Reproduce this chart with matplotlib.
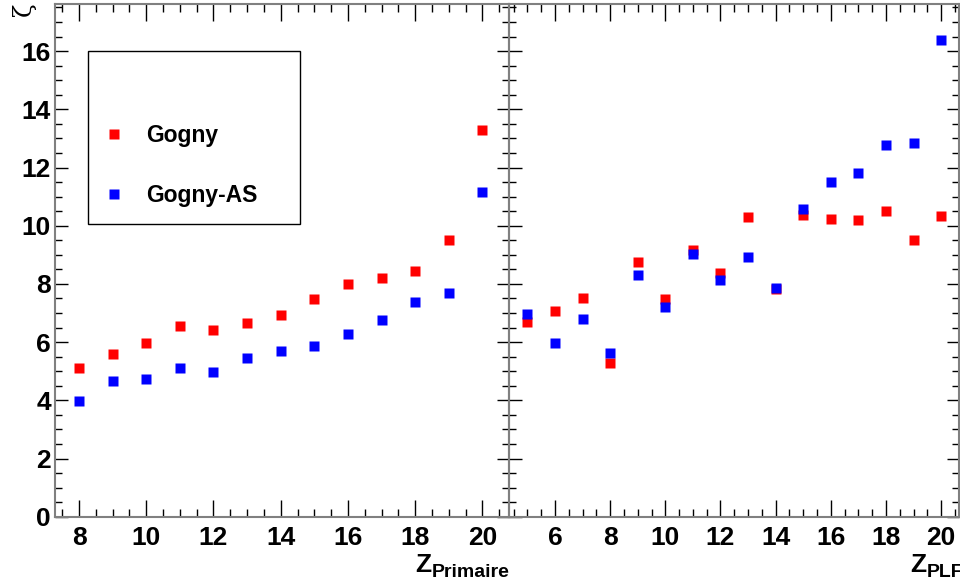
import matplotlib
matplotlib.use("Agg")
import matplotlib.pyplot as plt
from matplotlib.patches import Rectangle
from matplotlib.ticker import MultipleLocator

plt.rcParams['font.family'] = ['Liberation Sans', 'DejaVu Sans']

# ---- data ----
z_primaire = [8, 9, 10, 11, 12, 13, 14, 15, 16, 17, 18, 19, 20]
gogny_primaire = [5.11, 5.58, 5.96, 6.56, 6.43, 6.64, 6.92, 7.48, 7.99, 8.19, 8.44, 9.51, 13.29]
gognyas_primaire = [3.98, 4.66, 4.72, 5.11, 4.96, 5.46, 5.68, 5.86, 6.27, 6.76, 7.37, 7.69, 11.17]

z_plf = [5, 6, 7, 8, 9, 10, 11, 12, 13, 14, 15, 16, 17, 18, 19, 20]
gogny_plf = [6.70, 7.07, 7.50, 5.27, 8.76, 7.48, 9.15, 8.37, 10.31, 7.81, 10.36, 10.23, 10.19, 10.51, 9.51, 10.34]
gognyas_plf = [6.97, 5.98, 6.80, 5.63, 8.30, 7.21, 9.03, 8.13, 8.94, 7.85, 10.58, 11.50, 11.80, 12.77, 12.85, 16.38]

series_labels = ['Gogny', 'Gogny-AS']
series_colors = ['#ff0000', '#0000ff']
y_ticks = [0, 2, 4, 6, 8, 10, 12, 14, 16]

W, H = 960, 587
fig = plt.figure(figsize=(W / 100, H / 100), dpi=100)

def frac(x0, y0, x1, y1):
    return [x0 / W, 1 - y1 / H, (x1 - x0) / W, (y1 - y0) / H]

axL = fig.add_axes(frac(55, 4, 509, 516.7))
axR = fig.add_axes(frac(509, 4, 959, 516.7))

def style(ax, xlim, xticks, show_ylabels):
    ax.set_xlim(*xlim)
    ax.set_ylim(0, 17.62)
    ax.set_xticks(xticks)
    ax.set_yticks(y_ticks)
    ax.xaxis.set_minor_locator(MultipleLocator(0.5))
    ax.yaxis.set_minor_locator(MultipleLocator(0.5))
    ax.tick_params(which='both', direction='in', top=True, right=True,
                   color='black', width=1)
    ax.tick_params(axis='x', which='major', length=12, labelsize=19, pad=7)
    ax.tick_params(axis='x', which='minor', length=6)
    ax.tick_params(axis='y', which='major', length=9, labelsize=19, pad=3)
    ax.tick_params(axis='y', which='minor', length=5)
    if not show_ylabels:
        ax.tick_params(axis='y', labelleft=False)
    for lab in ax.get_xticklabels() + ax.get_yticklabels():
        lab.set_fontweight('bold')
    for sp in ax.spines.values():
        sp.set_color('#808080')
        sp.set_linewidth(1.5)
    ax.patch.set_alpha(0)

style(axL, (7.286, 20.79), [8, 10, 12, 14, 16, 18, 20], True)
style(axR, (4.33, 20.65), [6, 8, 10, 12, 14, 16, 18, 20], False)

ms = 7.2
hL = []
for vals, c, lab in [(gogny_primaire, series_colors[0], series_labels[0]),
                     (gognyas_primaire, series_colors[1], series_labels[1])]:
    h, = axL.plot(z_primaire, vals, 's', color=c, ms=ms, mec='none', label=lab, clip_on=False)
    hL.append(h)
for vals, c in [(gogny_plf, series_colors[0]), (gognyas_plf, series_colors[1])]:
    axR.plot(z_plf, vals, 's', color=c, ms=ms, mec='none', clip_on=False)

# legend box
fig.patches.append(Rectangle((88 / W, 1 - 224 / H), (300 - 88) / W, (224 - 51) / H,
                             transform=fig.transFigure, fill=False, ec='black', lw=1))
leg = fig.legend(handles=hL, labels=series_labels, loc='upper left',
                 bbox_to_anchor=(107 / W, 1 - 124 / H), frameon=False,
                 prop={'weight': 'bold', 'size': 16.5}, labelspacing=1.62,
                 handlelength=0.6, handletextpad=1.1, borderpad=0, borderaxespad=0)

# axis titles
fig.text(12 / W, 1 - 2 / H, 'ζ', rotation=90, ha='left', va='top', fontsize=18,
         family=['DejaVu Serif'])
fig.text(431 / W, 1 - 572 / H, 'Z', ha='right', va='baseline', fontsize=19, fontweight='bold')
fig.text(432 / W, 1 - 577 / H, 'Primaire', ha='left', va='baseline', fontsize=14, fontweight='bold')
fig.text(926 / W, 1 - 572 / H, 'Z', ha='right', va='baseline', fontsize=19, fontweight='bold')
fig.text(927 / W, 1 - 577 / H, 'PLF', ha='left', va='baseline', fontsize=14, fontweight='bold')

fig.savefig('out.png', dpi=100)
